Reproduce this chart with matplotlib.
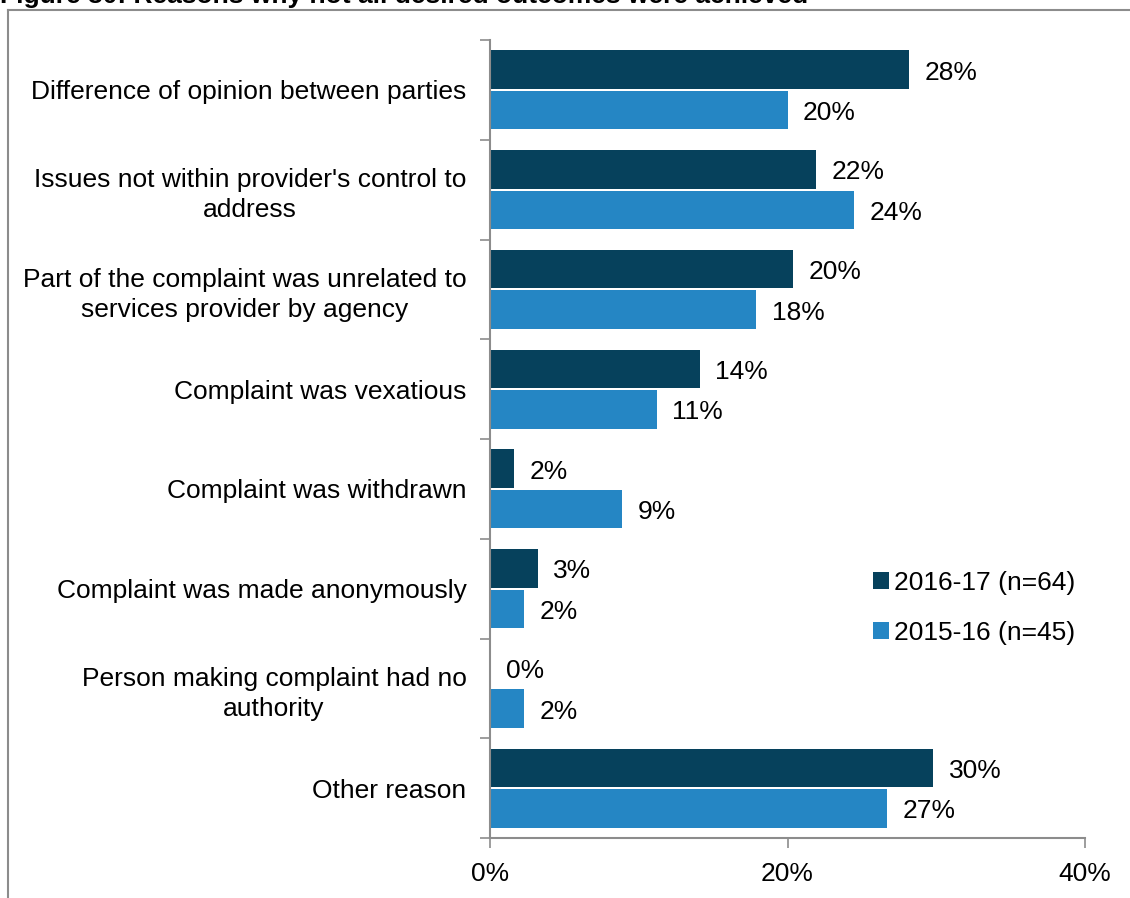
import matplotlib
matplotlib.use("Agg")
import matplotlib.pyplot as plt
import numpy as np
from matplotlib.lines import Line2D

plt.rcParams['font.family'] = ['Liberation Sans', 'DejaVu Sans']

categories = [
    "Difference of opinion between parties",
    "Issues not within provider's control to\naddress",
    "Part of the complaint was unrelated to\nservices provider by agency",
    "Complaint was vexatious",
    "Complaint was withdrawn",
    "Complaint was made anonymously",
    "Person making complaint had no\nauthority",
    "Other reason",
]
values_2016 = [28.2, 21.9, 20.4, 14.1, 1.6, 3.2, 0.0, 29.8]
values_2015 = [20.0, 24.5, 17.9, 11.2, 8.9, 2.3, 2.3, 26.7]
series_labels = ["2016-17 (n=64)", "2015-16 (n=45)"]
xticks = [0, 20, 40]

dark = "#06415C"
light = "#2586C4"
axis_grey = "#8C8C8C"
fs = 19

fig = plt.figure(figsize=(11.3, 8.98), dpi=100)
ax = fig.add_axes([490 / 1130, 1 - 838 / 898, 595 / 1130, 798 / 898])

n = len(categories)
centers = np.arange(n) + 0.5
bh = 0.385
gap = 0.02
ax.barh(centers - bh / 2 - gap / 2, values_2016, height=bh, color=dark, label=series_labels[0])
ax.barh(centers + bh / 2 + gap / 2, values_2015, height=bh, color=light, label=series_labels[1])

for c, v in zip(centers, values_2016):
    ax.text(v + 1.05, c - bh / 2 - gap / 2 + 0.03, f"{v:.0f}%", va="center", ha="left", fontsize=fs)
for c, v in zip(centers, values_2015):
    ax.text(v + 1.05, c + bh / 2 + gap / 2 + 0.03, f"{v:.0f}%", va="center", ha="left", fontsize=fs)

ax.set_ylim(n, 0)
ax.set_xlim(0, 40)

ax.set_yticks(np.arange(n + 1))
ax.set_yticklabels([])
ax.set_yticks(centers, minor=True)
ax.set_yticklabels(categories, minor=True, fontsize=fs, linespacing=1.3)
ax.tick_params(axis="y", which="major", length=7, color=axis_grey, width=1.2)
ax.tick_params(axis="y", which="minor", length=0, pad=17)
for t in ax.get_yticklabels(minor=True):
    t.set_horizontalalignment("right")
    t.set_multialignment("center")

ax.set_xticks(xticks)
ax.set_xticklabels([f"{x}%" for x in xticks], fontsize=fs)
ax.tick_params(axis="x", length=7, color=axis_grey, width=1.2, pad=10)

for side in ["top", "right"]:
    ax.spines[side].set_visible(False)
for side in ["left", "bottom"]:
    ax.spines[side].set_color(axis_grey)
    ax.spines[side].set_linewidth(1.5)

ax.legend(loc="upper left", bbox_to_anchor=(849 / 1130, 1 - 547 / 898), bbox_transform=fig.transFigure,
          frameon=False, fontsize=fs, handlelength=0.6, handleheight=0.6, handletextpad=0.2,
          labelspacing=1.0)

# outer frame and clipped heading
fig.add_artist(Line2D([8 / 1130, 8 / 1130], [0, 1 - 10 / 898], transform=fig.transFigure,
                      color="#8C8C8C", lw=1.5))
fig.add_artist(Line2D([8 / 1130, 1], [1 - 10 / 898, 1 - 10 / 898], transform=fig.transFigure,
                      color="#8C8C8C", lw=1.5))
fig.text(0.0, 1 - 3 / 898, "Figure 30: Reasons why not all desired outcomes were achieved",
         fontsize=fs, fontweight="bold", ha="left", va="baseline")

fig.savefig("out.png", dpi=100)
